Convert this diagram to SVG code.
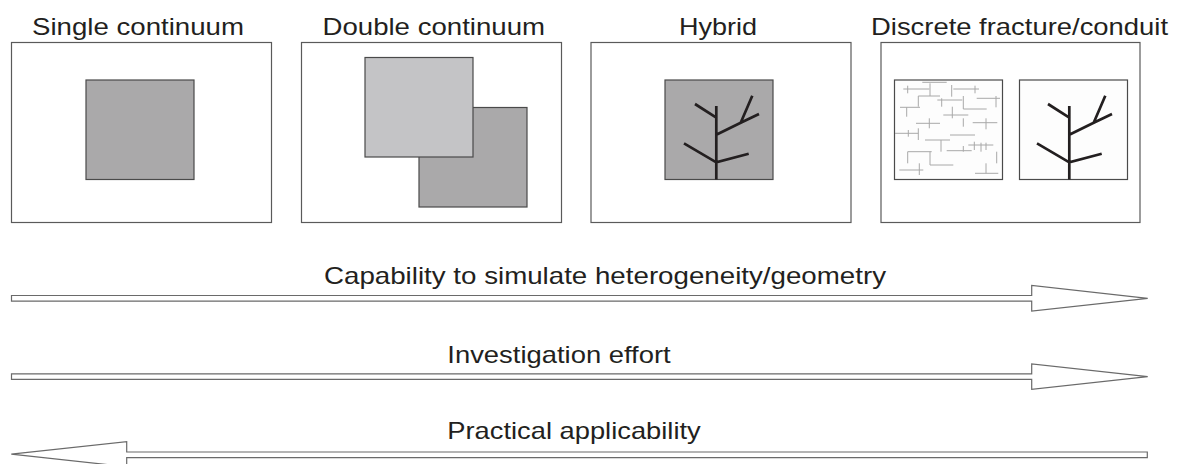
<svg xmlns="http://www.w3.org/2000/svg" width="1178" height="464" viewBox="0 0 1178 464">
<style>
.frame{fill:#fff;stroke:#5a5a5a;stroke-width:1.2}
.dark{fill:#aaa9aa;stroke:#4a4a4a;stroke-width:1.2}
.light{fill:#c4c4c6;stroke:#4a4a4a;stroke-width:1.2}
.white{fill:#fdfdfd;stroke:#4a4a4a;stroke-width:1.2}
.tree{fill:none;stroke:#231f20;stroke-width:2.7;stroke-linecap:butt}
.frac{stroke:#a8a8a8;stroke-width:1;fill:none}
.lbl{font-family:"Liberation Sans",Arial,sans-serif;font-size:24px;fill:#231f20}
.arrow{fill:#fff;stroke:#6a6a6a;stroke-width:1.2;stroke-linejoin:miter}
</style>
<defs>
<g id="treeShape">
<path class="tree" d="M0,106V179.5 M-21.3,104L0,117.7 M0,134.7L24.4,122.7L42.7,114 M24.4,122.7L36,95.7 M-32.3,143.3L0,162.3L32.4,153.7"/>
</g>
</defs>

<g id="single">
<rect class="frame" x="11.5" y="42.5" width="260" height="180"/>
<rect class="dark" x="86" y="80" width="108" height="99.5"/>
<text class="lbl" x="32" y="35" textLength="212" lengthAdjust="spacingAndGlyphs">Single continuum</text>
</g>

<g id="double">
<rect class="frame" x="301.5" y="42.5" width="260" height="180"/>
<rect class="dark" x="419" y="107.5" width="108" height="99.5"/>
<rect class="light" x="365" y="57.5" width="108" height="99.5"/>
<text class="lbl" x="322.5" y="35" textLength="222.5" lengthAdjust="spacingAndGlyphs">Double continuum</text>
</g>

<g id="hybrid">
<rect class="frame" x="591" y="42.5" width="260" height="180"/>
<rect class="dark" x="665" y="80" width="108" height="99.5"/>
<use href="#treeShape" transform="translate(716.3,0)"/>
<text class="lbl" x="679" y="35" textLength="78" lengthAdjust="spacingAndGlyphs">Hybrid</text>
</g>

<g id="discrete">
<rect class="frame" x="881" y="42.5" width="259" height="180"/>
<rect class="white" x="894.5" y="80" width="108" height="99.5"/>
<g class="frac">
<path d="M922.3,82.3H946.7 M903.3,89H929.3 M907.7,85.7V93.3 M930,83.3V96 M951.7,85V96.7 M953.3,89H979 M975,85.7V93.3 M918.3,96H940 M918.3,96V106.7 M937.3,100H962.3 M941.7,98.3V106.7 M963.3,96V109H986.7 M976.7,98.3H1000 M996,96V107.3 M900,107.3H920 M906.7,107.3V116.7 M952.3,106.7V118.3 M943.3,115H968.3 M929.3,118.3V128.3 M916,123.3H940 M963.3,118.3V126.7 M972.7,122.7H997.3 M986,118.3V129.3 M895,133.3H918.3 M908.3,130V136.7 M918.3,128.3V140 M950,135H975 M925,140H950 M941,140V151.7 M946.7,150.7H971.7 M963.3,146V151.7 M968.3,145H993.3 M974.3,141.7V150 M981,142.7V151.7 M986,142.7V150 M907.7,151.7H931.7 M907.7,151.7V163.3 M930,151.7V165H953.3 M996.7,151.7V163.3 M899.3,170H923.3 M919.3,163.3V175 M975,173.3H998.3 M986,163.3V173.3"/>
</g>
<rect class="white" x="1019.5" y="80" width="108" height="99.5"/>
<use href="#treeShape" transform="translate(1069.3,0)"/>
<text class="lbl" x="871" y="35" textLength="297" lengthAdjust="spacingAndGlyphs">Discrete fracture/conduit</text>
</g>

<g id="connectors">
<path class="arrow" d="M11.5,295.5H1031.7V285.5L1147.7,298.3L1031.7,311V301.2H11.5Z"/>
<path class="arrow" d="M11.5,373.8H1031.7V363.8L1147.7,376.7L1031.7,389.4V379.4H11.5Z"/>
<path class="arrow" d="M1147.3,452H126.7V441.7L11.3,454.2L126.7,466.7V457.6H1147.3Z"/>
</g>

<g id="labels">
<text class="lbl" x="324" y="284.3" textLength="562" lengthAdjust="spacingAndGlyphs">Capability to simulate heterogeneity/geometry</text>
<text class="lbl" x="447.3" y="363.3" textLength="223.4" lengthAdjust="spacingAndGlyphs">Investigation effort</text>
<text class="lbl" x="447.3" y="439.3" textLength="253.4" lengthAdjust="spacingAndGlyphs">Practical applicability</text>
</g>
</svg>
